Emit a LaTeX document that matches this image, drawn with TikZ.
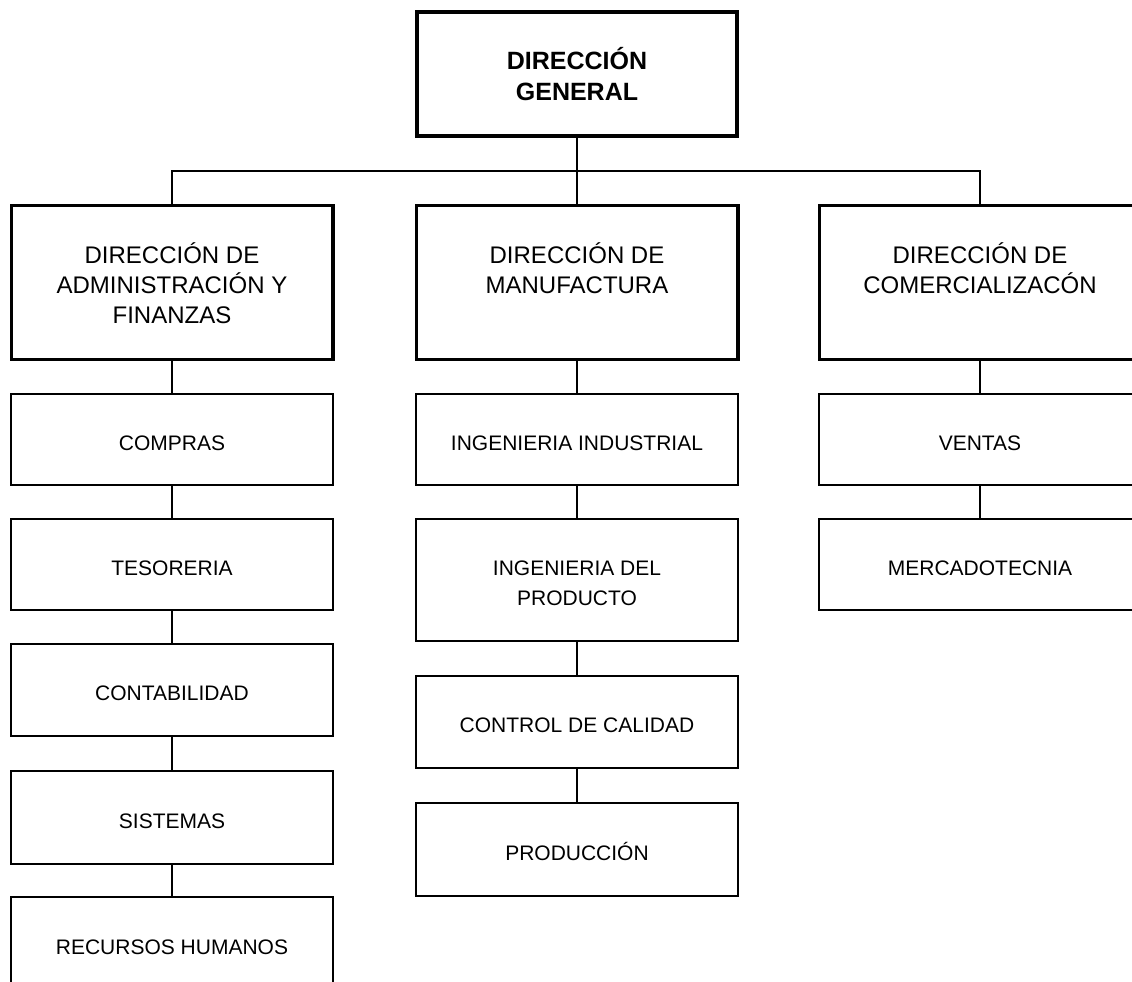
\documentclass[tikz,border=0pt]{standalone}
\usepackage{fontspec}
\setmainfont{Liberation Sans}
\begin{document}
\begin{tikzpicture}[x=1pt,y=-1pt,
  topbox/.style={draw=black, line width=4pt, minimum width=320pt, minimum height=124pt,
    inner sep=0pt, align=center, font=\bfseries\fontsize{25}{31}\selectfont},
  dirbox/.style={draw=black, line width=3.3pt, minimum width=321.7pt, minimum height=153.7pt,
    inner sep=0pt,
    label={[font=\fontsize{24}{30}\selectfont, align=center, anchor=north, inner sep=0pt, yshift=-38pt]north:{#1}}},
  unitbox/.style={draw=black, line width=2.4pt, minimum width=322pt, minimum height=90.6pt,
    inner sep=0pt,
    label={[font=\fontsize{21}{30}\selectfont, inner sep=0pt, text height=21pt, text depth=0pt]center:{#1}}},
  unitbox2/.style={draw=black, line width=2.4pt, minimum width=322pt, minimum height=90.6pt,
    inner sep=0pt,
    label={[font=\fontsize{21}{30}\selectfont, align=center, inner sep=0pt, yshift=-3pt]center:{#1}}},
  link/.style={draw=black, line width=2.5pt}
]
\useasboundingbox (0,0) rectangle (1132,982);
\clip (0,0) rectangle (1132,982);

% head
\node[topbox] (dg) at (577,74) {DIRECCIÓN\\GENERAL};

% directorates
\node[dirbox={DIRECCIÓN DE\\ADMINISTRACIÓN Y\\FINANZAS}] (dA) at (172,282.5) {};
\node[dirbox={DIRECCIÓN DE\\MANUFACTURA}] (dM) at (577,282.5) {};
\node[dirbox={DIRECCIÓN DE\\COMERCIALIZACÓN}] (dC) at (980,282.5) {};

% administration and finance
\node[unitbox={COMPRAS}] (compras) at (172,439.5) {};
\node[unitbox={TESORERIA}] (tesoreria) at (172,564.5) {};
\node[unitbox={CONTABILIDAD}, minimum height=91.6pt] (contab) at (172,690) {};
\node[unitbox={SISTEMAS}, minimum height=92.6pt] (sistemas) at (172,817.5) {};
\node[unitbox={RECURSOS HUMANOS}, minimum height=92.6pt] (rrhh) at (172,943.5) {};

% manufacturing
\node[unitbox={INGENIERIA INDUSTRIAL}] (ingind) at (577,439.5) {};
\node[unitbox2={INGENIERIA DEL\\PRODUCTO}, minimum height=121.6pt] (ingprod) at (577,580) {};
\node[unitbox={CONTROL DE CALIDAD}, minimum height=91.6pt] (calidad) at (577,722) {};
\node[unitbox={PRODUCCIÓN}, minimum height=92.6pt] (produccion) at (577,849.5) {};

% marketing
\node[unitbox={VENTAS}] (ventas) at (980,439.5) {};
\node[unitbox={MERCADOTECNIA}] (mercado) at (980,564.5) {};

% connectors
\coordinate (bus) at (577,171);
\path[link] (dg.south) -- (dM.north);
\path[link] (dA.north) -- (dA.north |- bus) -- (dC.north |- bus) -- (dC.north);

\path[link] (dA.south) -- (compras.north);
\path[link] (compras.south) -- (tesoreria.north);
\path[link] (tesoreria.south) -- (contab.north);
\path[link] (contab.south) -- (sistemas.north);
\path[link] (sistemas.south) -- (rrhh.north);

\path[link] (dM.south) -- (ingind.north);
\path[link] (ingind.south) -- (ingprod.north);
\path[link] (ingprod.south) -- (calidad.north);
\path[link] (calidad.south) -- (produccion.north);

\path[link] (dC.south) -- (ventas.north);
\path[link] (ventas.south) -- (mercado.north);
\end{tikzpicture}
\end{document}
